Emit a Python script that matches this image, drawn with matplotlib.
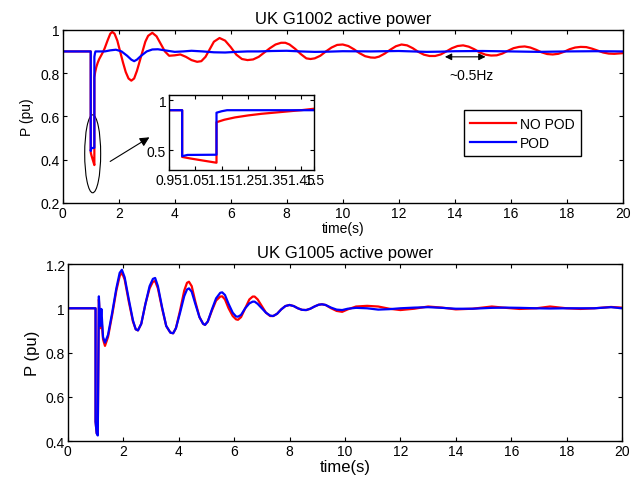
import matplotlib
matplotlib.use("Agg")
from matplotlib import pyplot as plt
from matplotlib.patches import Ellipse
from matplotlib.ticker import FormatStrFormatter

plt.rcParams['font.family'] = ['Liberation Sans', 'DejaVu Sans']

# G1002 active power (t, P)
g1002_nopod = [(0, 0.9), (1.0, 0.9), (1.0, 0.433), (1.03, 0.418), (1.06, 0.405), (1.09, 0.392),
               (1.13, 0.375), (1.13, 0.78), (1.16, 0.805), (1.2, 0.828), (1.25, 0.848), (1.3, 0.864),
               (1.35, 0.876), (1.4, 0.888), (1.45, 0.9), (1.5, 0.915), (1.6, 0.95), (1.7, 0.982),
               (1.77, 0.99), (1.85, 0.982), (1.95, 0.95), (2.05, 0.9), (2.15, 0.85), (2.25, 0.805),
               (2.35, 0.775), (2.45, 0.765), (2.55, 0.775), (2.65, 0.81), (2.75, 0.855), (2.85, 0.9),
               (2.95, 0.945), (3.05, 0.972), (3.2, 0.986), (3.35, 0.97), (3.5, 0.935), (3.65, 0.9),
               (3.8, 0.88), (4.0, 0.882), (4.2, 0.886), (4.4, 0.875), (4.6, 0.86), (4.8, 0.852),
               (4.95, 0.855), (5.1, 0.875), (5.25, 0.91), (5.4, 0.945), (5.6, 0.962), (5.8, 0.95),
               (6.0, 0.92), (6.2, 0.885), (6.4, 0.865), (6.6, 0.86), (6.8, 0.863), (7.0, 0.875),
               (7.2, 0.895), (7.4, 0.915), (7.6, 0.932), (7.8, 0.94), (7.95, 0.94), (8.1, 0.932),
               (8.3, 0.912), (8.5, 0.888), (8.7, 0.868), (8.85, 0.865), (9.0, 0.868), (9.2, 0.88),
               (9.4, 0.9), (9.6, 0.918), (9.8, 0.93), (10.0, 0.932), (10.2, 0.925), (10.4, 0.91),
               (10.6, 0.892), (10.8, 0.878), (11.0, 0.872), (11.15, 0.871), (11.3, 0.876), (11.5, 0.89),
               (11.7, 0.908), (11.9, 0.924), (12.1, 0.932), (12.3, 0.928), (12.5, 0.915), (12.7, 0.898),
               (12.9, 0.885), (13.1, 0.879), (13.3, 0.879), (13.5, 0.886), (13.7, 0.9), (13.9, 0.915),
               (14.1, 0.925), (14.3, 0.928), (14.5, 0.922), (14.7, 0.91), (14.9, 0.895), (15.1, 0.885),
               (15.3, 0.881), (15.5, 0.882), (15.7, 0.89), (15.9, 0.903), (16.1, 0.915), (16.3, 0.921),
               (16.5, 0.923), (16.7, 0.918), (16.9, 0.908), (17.1, 0.896), (17.3, 0.888), (17.5, 0.886),
               (17.7, 0.889), (17.9, 0.898), (18.1, 0.91), (18.3, 0.918), (18.5, 0.921), (18.7, 0.92),
               (18.9, 0.913), (19.1, 0.904), (19.3, 0.895), (19.5, 0.89), (19.7, 0.889), (20.0, 0.892)]

g1002_pod = [(0, 0.9), (1.0, 0.9), (1.0, 0.44), (1.02, 0.453), (1.13, 0.455), (1.13, 0.875),
             (1.15, 0.89), (1.17, 0.9), (1.3, 0.9), (1.5, 0.9), (1.7, 0.905), (1.9, 0.908),
             (2.1, 0.9), (2.3, 0.88), (2.45, 0.862), (2.55, 0.855), (2.65, 0.862), (2.8, 0.88),
             (3.0, 0.9), (3.2, 0.909), (3.4, 0.91), (3.7, 0.904), (4.0, 0.898), (4.3, 0.9),
             (4.6, 0.903), (5.0, 0.9), (5.4, 0.896), (5.8, 0.895), (6.2, 0.898), (6.6, 0.9),
             (7.0, 0.9), (7.5, 0.902), (8.0, 0.903), (8.5, 0.9), (9.0, 0.898), (9.5, 0.899),
             (10.0, 0.901), (11.0, 0.9), (12.0, 0.902), (12.5, 0.9), (13.0, 0.898), (13.5, 0.899),
             (14.0, 0.901), (15.0, 0.902), (16.0, 0.9), (17.0, 0.898), (18.0, 0.9), (19.0, 0.901),
             (20.0, 0.9)]

# G1005 active power, shared time base
t_g1005 = [0, 1.0, 1.0, 1.04, 1.08, 1.12, 1.17, 1.21, 1.27, 1.34, 1.45, 1.6, 1.75, 1.87, 1.95,
           2.05, 2.2, 2.35, 2.45, 2.53, 2.65, 2.8, 2.95, 3.07, 3.15, 3.25, 3.4, 3.55, 3.7, 3.8,
           3.9, 4.05, 4.2, 4.3, 4.37, 4.47, 4.6, 4.75, 4.88, 4.95, 5.05, 5.2, 5.35, 5.5, 5.57,
           5.67, 5.8, 5.95, 6.07, 6.14, 6.25, 6.4, 6.55, 6.67, 6.74, 6.85, 7.0, 7.15, 7.3, 7.41,
           7.55, 7.7, 7.85, 8.0, 8.15, 8.3, 8.45, 8.6, 8.75, 8.9, 9.05, 9.17, 9.3, 9.5, 9.7,
           9.9, 10.1, 10.4, 10.8, 11.2, 11.6, 12.0, 12.5, 13.0, 13.5, 14.0, 14.6, 15.3, 15.8,
           16.3, 16.9, 17.4, 18.0, 18.5, 19.0, 19.6, 20.0]
g1005_nopod = [1, 1, 0.488, 0.435, 0.43, 1.04, 0.91, 0.96, 0.86, 0.83, 0.87, 0.97, 1.08, 1.145, 1.162,
               1.13, 1.03, 0.94, 0.905, 0.9, 0.93, 1.02, 1.09, 1.12, 1.123, 1.09, 1.0, 0.92, 0.89, 0.887,
               0.91, 0.99, 1.08, 1.115, 1.12, 1.1, 1.03, 0.96, 0.93, 0.925, 0.94, 0.99, 1.035, 1.053, 1.054,
               1.04, 1.0, 0.965, 0.95, 0.948, 0.96, 1.0, 1.04, 1.053, 1.053, 1.04, 1.01, 0.98, 0.965, 0.965,
               0.975, 0.995, 1.01, 1.015, 1.01, 1.0, 0.993, 0.992, 0.998, 1.008, 1.016, 1.018, 1.015, 1.0, 0.988,
               0.984, 0.995, 1.008, 1.011, 1.008, 0.998, 0.992, 0.998, 1.008, 1.003, 0.995, 0.998, 1.008, 1.002,
               0.997, 1.0, 1.008, 1.0, 0.997, 1.0, 1.006, 1.003]
g1005_pod = [1, 1, 0.488, 0.435, 0.425, 1.054, 0.92, 0.997, 0.87, 0.845, 0.88, 0.98, 1.09, 1.16, 1.174,
             1.14, 1.04, 0.945, 0.905, 0.9, 0.93, 1.02, 1.1, 1.133, 1.137, 1.1, 1.005, 0.92, 0.89, 0.887,
             0.91, 0.98, 1.055, 1.085, 1.09, 1.075, 1.02, 0.96, 0.93, 0.925, 0.94, 0.995, 1.045, 1.07, 1.072,
             1.06, 1.02, 0.98, 0.963, 0.962, 0.97, 1.0, 1.022, 1.03, 1.03, 1.02, 1.0, 0.98, 0.967, 0.965,
             0.975, 0.995, 1.01, 1.015, 1.01, 1.0, 0.993, 0.992, 0.998, 1.008, 1.016, 1.018, 1.015, 1.003, 0.994,
             0.992, 0.998, 1.002, 1.0, 0.994, 0.996, 1.0, 1.003, 1.005, 1.002, 0.998, 0.998, 1.002, 1.003,
             1.002, 1.0, 0.999, 1.0, 1.0, 1.0, 1.005, 1.0]

inset_xticks = [0.95, 1.05, 1.15, 1.25, 1.35, 1.45, 1.5]


def style(ax, size):
    ax.tick_params(direction='in', top=True, right=True, length=3, width=0.8, labelsize=size, pad=2)
    for s in ax.spines.values():
        s.set_linewidth(1.0)
    ax.yaxis.set_major_formatter(FormatStrFormatter('%g'))


fig = plt.figure(figsize=(6.4, 4.81), dpi=100)

# top panel
ax1 = fig.add_axes([0.098, 0.576, 0.875, 0.36])
t1, p1 = zip(*g1002_nopod)
t2, p2 = zip(*g1002_pod)
ax1.plot(t1, p1, color='#ff0000', lw=1.6, label='NO POD')
ax1.plot(t2, p2, color='#0000ff', lw=1.6, label='POD')
ax1.set_xlim(0, 20)
ax1.set_ylim(0.2, 1.0)
ax1.set_xticks(range(0, 21, 2))
ax1.set_yticks([0.2, 0.4, 0.6, 0.8, 1.0])
style(ax1, 10)
ax1.set_title('UK G1002 active power', fontsize=12, pad=5)
ax1.set_xlabel('time(s)', fontsize=10, labelpad=1)
ax1.set_ylabel('P (pu)', fontsize=10, labelpad=5)
leg = ax1.legend(loc='lower left', bbox_to_anchor=(0.716, 0.272), borderaxespad=0,
                 fancybox=False, edgecolor='black', fontsize=10, handlelength=3.3,
                 borderpad=0.45, labelspacing=0.35, handletextpad=0.3, framealpha=1)
leg.get_frame().set_linewidth(1.0)

ax1.add_patch(Ellipse((1.07, 0.427), 0.57, 0.36, fill=False, edgecolor='black', lw=0.8))
ax1.annotate('', xy=(3.18, 0.51), xytext=(1.61, 0.385),
             arrowprops=dict(arrowstyle='-|>', color='black', lw=0.8, mutation_scale=14))
ax1.annotate('', xy=(15.2, 0.875), xytext=(13.55, 0.875),
             arrowprops=dict(arrowstyle='<|-|>', color='black', lw=0.8, mutation_scale=10))
ax1.text(14.6, 0.79, '~0.5Hz', ha='center', va='center', fontsize=10)

# inset zoom of the fault
axi = fig.add_axes([0.264, 0.644, 0.227, 0.156])
axi.plot(t1, p1, color='#ff0000', lw=1.6)
axi.plot(t2, p2, color='#0000ff', lw=1.6)
axi.set_xlim(0.95, 1.5)
axi.set_ylim(0.3, 1.05)
axi.set_xticks(inset_xticks)
axi.set_xticklabels(['%g' % v for v in inset_xticks])
axi.set_yticks([0.5, 1.0])
style(axi, 10)

# bottom panel
ax2 = fig.add_axes([0.106, 0.081, 0.866, 0.368])
ax2.plot(t_g1005, g1005_nopod, color='#ff0000', lw=1.6)
ax2.plot(t_g1005, g1005_pod, color='#0000ff', lw=1.6)
ax2.set_xlim(0, 20)
ax2.set_ylim(0.4, 1.2)
ax2.set_xticks(range(0, 21, 2))
ax2.set_yticks([0.4, 0.6, 0.8, 1.0, 1.2])
style(ax2, 10)
ax2.set_title('UK G1005 active power', fontsize=12, pad=5)
ax2.set_xlabel('time(s)', fontsize=12, labelpad=1)
ax2.set_ylabel('P (pu)', fontsize=12, labelpad=4)

fig.savefig('out.png', dpi=100)
